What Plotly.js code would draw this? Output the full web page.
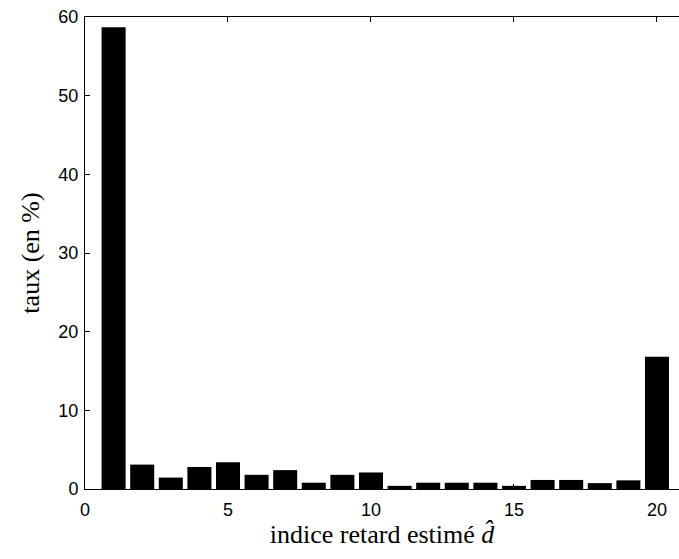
<!DOCTYPE html>
<html>
<head>
<meta charset="utf-8">
<script src="https://cdn.plot.ly/plotly-3.0.1.min.js"></script>
<style>html,body{margin:0;padding:0;background:#fff;}#chart{width:679px;height:559px;}</style>
</head>
<body>
<div id="chart"></div>
<script>
const delayIndex = [1,2,3,4,5,6,7,8,9,10,11,12,13,14,15,16,17,18,19,20];
const ratePercent = [58.7,3.1,1.45,2.8,3.4,1.8,2.4,0.8,1.8,2.1,0.4,0.8,0.8,0.8,0.4,1.15,1.15,0.75,1.1,16.8];
const xTicks = [0,5,10,15,20];
const yTicks = [0,10,20,30,40,50,60];

const trace = {
  type: 'bar',
  x: delayIndex,
  y: ratePercent,
  marker: {color: '#000000', line: {width: 0}},
  hoverinfo: 'x+y'
};

const serif = 'Liberation Serif';
const sans = 'Liberation Sans';

const layout = {
  width: 679, height: 559,
  margin: {l: 85, r: 0, t: 17, b: 70},
  paper_bgcolor: '#ffffff', plot_bgcolor: '#ffffff',
  bargap: 0.16,
  showlegend: false,
  xaxis: {
    range: [0, 20.77],
    tickvals: xTicks,
    ticktext: xTicks.map(String),
    ticks: 'inside', ticklen: 5, tickcolor: '#000', tickwidth: 1,
    showline: true, linecolor: '#000', linewidth: 1,
    mirror: 'ticks',
    showgrid: false, zeroline: false,
    ticklabelstandoff: 4,
    tickfont: {family: sans, size: 18, color: '#000'},
    title: {text: 'indice retard estimé <i>d̂</i>', font: {family: serif, size: 26, color: '#000'}, standoff: 2}
  },
  yaxis: {
    range: [0, 60],
    tickvals: yTicks,
    ticktext: yTicks.map(String),
    ticks: 'inside', ticklen: 5, tickcolor: '#000', tickwidth: 1,
    showline: true, linecolor: '#000', linewidth: 1,
    mirror: false,
    showgrid: false, zeroline: false,
    ticklabelstandoff: 2,
    tickfont: {family: sans, size: 18, color: '#000'},
    title: {text: 'taux (en %)', font: {family: serif, size: 26, color: '#000'}, standoff: 11}
  }
};

Plotly.newPlot('chart', [trace], layout, {displayModeBar: false, staticPlot: true});
</script>
</body>
</html>
